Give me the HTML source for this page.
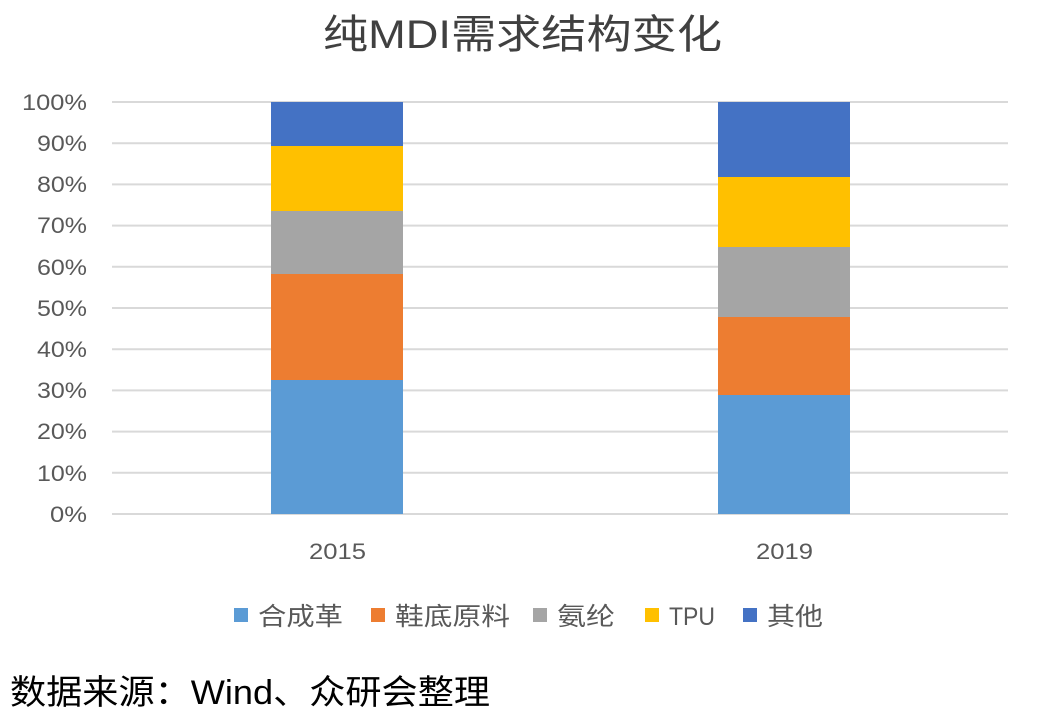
<!DOCTYPE html>
<html><head><meta charset="utf-8"><style>
body{margin:0;background:#fff;}
svg text{font-family:"Liberation Sans","Noto Sans CJK SC",sans-serif;}
</style></head><body>
<svg width="1043" height="721" xmlns="http://www.w3.org/2000/svg">
<rect width="1043" height="721" fill="#fff"/>
<text x="323" y="48" font-size="40" fill="#404040" textLength="399" lengthAdjust="spacingAndGlyphs">纯MDI需求结构变化</text>
<g stroke="#d9d9d9" stroke-width="2">
<line x1="112" x2="1008" y1="102" y2="102"/><line x1="112" x2="1008" y1="143.2" y2="143.2"/>
<line x1="112" x2="1008" y1="184.4" y2="184.4"/><line x1="112" x2="1008" y1="225.6" y2="225.6"/>
<line x1="112" x2="1008" y1="266.8" y2="266.8"/><line x1="112" x2="1008" y1="308" y2="308"/>
<line x1="112" x2="1008" y1="349.2" y2="349.2"/><line x1="112" x2="1008" y1="390.4" y2="390.4"/>
<line x1="112" x2="1008" y1="431.6" y2="431.6"/><line x1="112" x2="1008" y1="472.8" y2="472.8"/>
<line x1="112" x2="1008" y1="514" y2="514"/>
</g>
<g font-size="22" fill="#595959" text-anchor="end">
<text x="87" y="110" textLength="65" lengthAdjust="spacingAndGlyphs">100%</text>
<text x="87" y="151" textLength="50" lengthAdjust="spacingAndGlyphs">90%</text>
<text x="87" y="192" textLength="50" lengthAdjust="spacingAndGlyphs">80%</text>
<text x="87" y="233" textLength="50" lengthAdjust="spacingAndGlyphs">70%</text>
<text x="87" y="275" textLength="50" lengthAdjust="spacingAndGlyphs">60%</text>
<text x="87" y="316" textLength="50" lengthAdjust="spacingAndGlyphs">50%</text>
<text x="87" y="357" textLength="50" lengthAdjust="spacingAndGlyphs">40%</text>
<text x="87" y="398" textLength="50" lengthAdjust="spacingAndGlyphs">30%</text>
<text x="87" y="439" textLength="50" lengthAdjust="spacingAndGlyphs">20%</text>
<text x="87" y="481" textLength="50" lengthAdjust="spacingAndGlyphs">10%</text>
<text x="87" y="522" textLength="37" lengthAdjust="spacingAndGlyphs">0%</text>
</g>
<rect x="271" y="380" width="132" height="134" fill="#5b9bd5"/>
<rect x="271" y="274" width="132" height="106" fill="#ed7d31"/>
<rect x="271" y="211" width="132" height="63" fill="#a5a5a5"/>
<rect x="271" y="146" width="132" height="65" fill="#ffc000"/>
<rect x="271" y="102" width="132" height="44" fill="#4472c4"/>
<rect x="718" y="395" width="132" height="119" fill="#5b9bd5"/>
<rect x="718" y="317" width="132" height="78" fill="#ed7d31"/>
<rect x="718" y="247" width="132" height="70" fill="#a5a5a5"/>
<rect x="718" y="177" width="132" height="70" fill="#ffc000"/>
<rect x="718" y="102" width="132" height="75" fill="#4472c4"/>
<g font-size="22" fill="#595959">
<text x="309" y="559" textLength="57" lengthAdjust="spacingAndGlyphs">2015</text>
<text x="756" y="559" textLength="57" lengthAdjust="spacingAndGlyphs">2019</text>
</g>
<g font-size="25" fill="#595959">
<rect x="234" y="608" width="14" height="14" fill="#5b9bd5"/><text x="258" y="625" textLength="85" lengthAdjust="spacingAndGlyphs">合成革</text>
<rect x="371" y="608" width="14" height="14" fill="#ed7d31"/><text x="395" y="625" textLength="115" lengthAdjust="spacingAndGlyphs">鞋底原料</text>
<rect x="533" y="608" width="14" height="14" fill="#a5a5a5"/><text x="557" y="625" textLength="58" lengthAdjust="spacingAndGlyphs">氨纶</text>
<rect x="645" y="608" width="14" height="14" fill="#ffc000"/><text x="669" y="625" textLength="46" lengthAdjust="spacingAndGlyphs">TPU</text>
<rect x="743" y="608" width="14" height="14" fill="#4472c4"/><text x="767" y="625" textLength="56" lengthAdjust="spacingAndGlyphs">其他</text>
</g>
<text x="10" y="704" font-size="34" fill="#000" textLength="480" lengthAdjust="spacingAndGlyphs">数据来源：Wind、众研会整理</text>
</svg>
</body></html>
